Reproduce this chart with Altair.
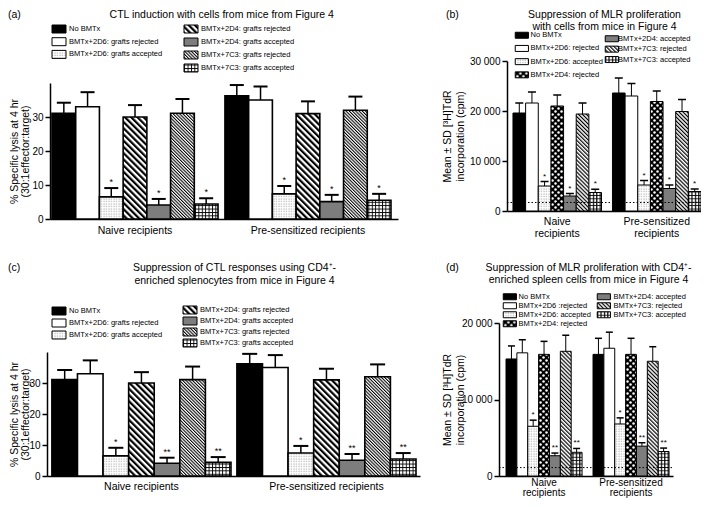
import altair as alt
import pandas as pd

try:
    from altair.utils.html import TEMPLATES
    BASE_TEMPLATE = TEMPLATES["standard"]
except Exception:  # pragma: no cover
    from altair.utils.html import HTML_TEMPLATE as BASE_TEMPLATE

FONT = "Liberation Sans"
W, H = 693, 491

# ------------------------------------------------------------------ data
GROUPS = ["Naive recipients", "Pre-sensitized recipients"]

CTL_CATS = ["No BMTx", "BMTx+2D6: grafts rejected", "BMTx+2D6: grafts accepted",
            "BMTx+2D4: grafts rejected", "BMTx+2D4: grafts accepted",
            "BMTx+7C3: grafts rejected", "BMTx+7C3: grafts accepted"]
CTL_NAIVE = [31.1, 33.0, 6.5, 30.0, 4.1, 31.1, 4.4]
CTL_NAIVE_SD = [3.1, 4.3, 2.6, 3.5, 1.8, 4.2, 1.7]
CTL_PRE = [36.2, 35.0, 7.4, 31.0, 5.1, 32.0, 5.5]
CTL_PRE_SD = [3.2, 4.0, 2.3, 3.6, 2.0, 4.0, 1.9]
A_STARS = ["", "", "*", "", "*", "", "*"]
C_STARS = ["", "", "*", "", "**", "", "**"]
CTL_TICKS = [0, 10, 20, 30]

B_CATS = ["No BMTx", "BMTx+2D6: rejected", "BMTx+2D6: accepted", "BMTx+2D4: rejected",
          "BMTx+2D4: accepted", "BMTx+7C3: rejected", "BMTx+7C3: accepted"]
B_NAIVE = [19600, 21600, 5000, 21000, 3000, 19400, 3700]
B_NAIVE_SD = [2000, 2200, 900, 2200, 500, 2200, 650]
B_PRE = [23600, 23000, 5200, 21900, 4500, 19900, 3900]
B_PRE_SD = [3000, 2500, 900, 2100, 700, 2400, 500]
B_STARS = ["", "", "*", "", "*", "", "*"]
B_BACKGROUND = [1700]
B_TICKS = [0, 10000, 20000, 30000]

D_CATS = ["No BMTx", "BMTx+2D6 :rejected", "BMTx+2D6: accepted", "BMTx+2D4: rejected",
          "BMTx+2D4: accepted", "BMTx+7C3: rejected", "BMTx+7C3: accepted"]
D_NAIVE = [15300, 16100, 6500, 15900, 2650, 16300, 3100]
D_NAIVE_SD = [1700, 1700, 800, 1700, 350, 2100, 500]
D_PRE = [15900, 16700, 6800, 15900, 3900, 15000, 3200]
D_PRE_SD = [2100, 2100, 800, 2100, 450, 1900, 450]
D_STARS = ["", "", "*", "", "**", "", "**"]
D_BACKGROUND = [1100]
D_TICKS = [0, 10000, 20000]

PANEL_TAGS = ["(a)", "(b)", "(c)", "(d)"]
TITLE_A = "CTL induction with cells from mice from Figure 4"
TITLE_B = "Suppression of MLR proliferation\nwith cells from mice in Figure 4"
TITLE_C = "Suppression of CTL responses using CD4\u207a-\nenriched splenocytes from mice in Figure 4"
TITLE_D = "Suppression of MLR proliferation with CD4\u207a-\nenriched spleen cells from mice in Figure 4"
YTITLE_CTL = ["% Specific lysis at 4 hr", "(30:1effector:target)"]
YTITLE_MLR = ["Mean \u00b1 SD [\u00b3H]TdR", "incorporation (cpm)"]

# ------------------------------------------------------------------ styles
FILLS_CTL = ["#000000", "#ffffff", "url(#p-stipple)", "url(#p-diag-bold)", "#7d7d7d",
             "url(#p-diag-fine)", "url(#p-grid)"]
FILLS_MLR = ["#000000", "#ffffff", "url(#p-stipple)", "url(#p-polka)", "#7d7d7d",
             "url(#p-diag-med)", "url(#p-grid-v)"]

PATTERN_DEFS = """<svg width="0" height="0" style="position:absolute;left:0;top:0;width:0;height:0" aria-hidden="true"><defs>
<pattern id="p-stipple" patternUnits="userSpaceOnUse" width="2.5" height="2.5">
<rect width="2.5" height="2.5" fill="#ffffff"/><rect x="0.5" y="0.5" width="1" height="1" fill="#8c8c8c"/></pattern>
<pattern id="p-diag-bold" patternUnits="userSpaceOnUse" width="4.4" height="4.4" patternTransform="rotate(-45)">
<rect width="4.4" height="4.4" fill="#ffffff"/><rect width="2.2" height="4.4" fill="#000000"/></pattern>
<pattern id="p-diag-fine" patternUnits="userSpaceOnUse" width="2.3" height="2.3" patternTransform="rotate(-45)">
<rect width="2.3" height="2.3" fill="#ffffff"/><rect width="1.05" height="2.3" fill="#000000"/></pattern>
<pattern id="p-grid" patternUnits="userSpaceOnUse" width="3.4" height="3.4">
<rect width="3.4" height="3.4" fill="#ffffff"/><rect width="3.4" height="0.9" fill="#000000"/><rect width="0.9" height="3.4" fill="#000000"/></pattern>
<pattern id="p-polka" patternUnits="userSpaceOnUse" width="6" height="6">
<rect width="6" height="6" fill="#000000"/><circle cx="1.5" cy="1.5" r="1.25" fill="#ffffff"/><circle cx="4.5" cy="4.5" r="1.25" fill="#ffffff"/></pattern>
<pattern id="p-diag-med" patternUnits="userSpaceOnUse" width="2.8" height="2.8" patternTransform="rotate(-45)">
<rect width="2.8" height="2.8" fill="#ffffff"/><rect width="1.2" height="2.8" fill="#000000"/></pattern>
<pattern id="p-grid-v" patternUnits="userSpaceOnUse" width="3.4" height="3.4">
<rect width="3.4" height="3.4" fill="#ffffff"/><rect width="3.4" height="0.8" fill="#000000"/><rect width="1.2" height="3.4" fill="#000000"/></pattern>
</defs></svg>"""

RECT_WIDE = "M-1.75,-1L1.75,-1L1.75,1L-1.75,1Z"
RECT_NARROW = "M-2.2,-1L2.2,-1L2.2,1L-2.2,1Z"

LAY_A = dict(xr=[42, 390], yr=[211, 75], ydom=[0, 40], ticks=CTL_TICKS, pi=0.04, po=0.026, align=0.22,
             xfs=10.5, xlp=6, xlh=12, split_lines=False, thousands=False,
             ytitle=YTITLE_CTL, ytx=-35.5, yty=143, ytlh=11,
             bsw=1.6, esw=1.5, capw=14, capt=2, sfs=9,
             legends=[(46.5, 16.5, -0.3, 5.5), (178.5, 16.5, 0, 5.5)],
             lpath=RECT_WIDE, lsize=64, lfs=7.5)
LAY_C = dict(xr=[39, 412], yr=[468, 344], ydom=[0, 40], ticks=CTL_TICKS, pi=0.032, po=0.024, align=0.55,
             xfs=10.5, xlp=5, xlh=12, split_lines=False, thousands=False,
             ytitle=YTITLE_CTL, ytx=-32.5, yty=406, ytlh=11,
             bsw=1.6, esw=1.5, capw=15, capt=2, sfs=9,
             legends=[(46.5, 298.5, -1, 5.5), (177.5, 297.5, -2, 5.5)],
             lpath=RECT_WIDE, lsize=64, lfs=7.5)
LAY_B = dict(xr=[499, 693], yr=[203, 53], ydom=[0, 30000], ticks=B_TICKS, pi=0.11, po=0.03, align=1.0,
             xfs=10.5, xlp=5, xlh=12.5, split_lines=True, thousands=True,
             ytitle=YTITLE_MLR, ytx=-60, yty=128, ytlh=13,
             bsw=1, esw=1, capw=8, capt=1.5, sfs=8,
             legends=[(510.1, 23.5, 2.2, 4.9), (600.1, 27, -0.6, 2.5)],
             lpath=RECT_NARROW, lsize=36, lfs=7.5)
LAY_D = dict(xr=[491, 665], yr=[468, 315], ydom=[0, 20000], ticks=D_TICKS, pi=0.126, po=0.063, align=0.64,
             xfs=10, xlp=1.5, xlh=10, split_lines=True, thousands=True,
             ytitle=YTITLE_MLR, ytx=-52, yty=391.5, ytlh=13,
             bsw=1, esw=1, capw=7, capt=1.5, sfs=8,
             legends=[(498.1, 285, -2.2, 4.9), (592.1, 285, -2, 5.9)],
             lpath=RECT_NARROW, lsize=36, lfs=7.5)


def legend_for(cfg, k):
    lx, ly, rp, lo = cfg["legends"][k]
    return alt.Legend(orient="none", legendX=lx, legendY=ly, title=None, direction="vertical",
                      symbolType=cfg["lpath"], symbolSize=cfg["lsize"], symbolStrokeColor="black",
                      symbolStrokeWidth=1, symbolOpacity=1, labelFont=FONT, labelFontSize=cfg["lfs"],
                      labelColor="black", labelOffset=lo, rowPadding=rp, padding=0, labelLimit=400)


def bar_panel(cats, naive, naive_sd, pre, pre_sd, stars, fills, split, cfg):
    rows = []
    for grp, vals, sds in ((GROUPS[0], naive, naive_sd), (GROUPS[1], pre, pre_sd)):
        for i, cat in enumerate(cats):
            rows.append({"group": grp, "cat": cat, "value": vals[i], "top": vals[i] + sds[i],
                         "star": stars[i], "col": 1 if i < split else 2})
    base = alt.Chart(pd.DataFrame(rows))

    xscale = alt.Scale(domain=GROUPS, range=cfg["xr"], paddingInner=cfg["pi"],
                       paddingOuter=cfg["po"], align=cfg["align"])
    oscale = alt.Scale(domain=cats, paddingInner=0, paddingOuter=0)
    yscale = alt.Scale(domain=cfg["ydom"], range=cfg["yr"], nice=False, zero=False)

    xax = dict(orient="bottom", offset=cfg["yr"][0] - H, ticks=False, tickSize=0, domainColor="black",
               domainWidth=1.5, labelFont=FONT, labelFontSize=cfg["xfs"], labelColor="black",
               labelAngle=0, labelPadding=cfg["xlp"], labelLineHeight=cfg["xlh"], labelLimit=0,
               title=None)
    if cfg["split_lines"]:
        xax["labelExpr"] = "split(datum.label, ' ')"
    yax = dict(orient="left", offset=-cfg["xr"][0], values=cfg["ticks"], grid=False,
               domainColor="black", domainWidth=1.5, tickColor="black", tickWidth=1.5, tickSize=5,
               labelFont=FONT, labelFontSize=10, labelColor="black", labelPadding=2,
               title=cfg["ytitle"], titleFont=FONT, titleFontSize=10.5, titleFontWeight="normal",
               titleColor="black", titleX=cfg["ytx"], titleY=cfg["yty"], titleAngle=270,
               titleAlign="center", titleBaseline="middle", titleLineHeight=cfg["ytlh"])
    if cfg["thousands"]:
        yax["labelExpr"] = "replace(format(datum.value, ','), ',', ' ')"

    # every layer of the panel carries the same axis definition so that they merge
    X = alt.X("group:N", scale=xscale, axis=alt.Axis(**xax))
    XO = alt.XOffset("cat:N", scale=oscale)
    Y_val = alt.Y("value:Q", scale=yscale, axis=alt.Axis(**yax))
    Y_top = alt.Y("top:Q", scale=yscale, axis=alt.Axis(**yax))

    layers = []
    for k, (lo_i, hi_i) in enumerate(((0, split), (split, len(cats)))):
        sub = cats[lo_i:hi_i]
        layers.append(
            base.transform_filter(alt.FieldOneOfPredicate(field="cat", oneOf=sub))
            .mark_bar(stroke="black", strokeWidth=cfg["bsw"], opacity=1)
            .encode(x=X, xOffset=XO, y=Y_val, y2=alt.datum(0),
                    fill=alt.Fill("cat:N", scale=alt.Scale(domain=sub, range=fills[lo_i:hi_i]),
                                  legend=legend_for(cfg, k)))
        )
    stems = base.mark_rule(color="black", strokeWidth=cfg["esw"]).encode(
        x=X, xOffset=XO, y=Y_val, y2="top:Q")
    caps = base.mark_tick(color="black", thickness=cfg["capt"], size=cfg["capw"], opacity=1).encode(
        x=X, xOffset=XO, y=Y_top)
    star_marks = base.mark_text(font=FONT, fontSize=cfg["sfs"], baseline="bottom", dy=-1,
                                color="black").encode(x=X, xOffset=XO, y=Y_top, text="star:N")
    return (alt.layer(*layers, stems, caps, star_marks)
            .resolve_scale(fill="independent").resolve_legend(fill="independent"))


def background_line(level, cfg):
    df = pd.DataFrame({"start": [0.0], "end": [1.0], "level": level})
    return alt.Chart(df).mark_rule(color="black", strokeDash=[1.5, 2], strokeWidth=1).encode(
        x=alt.X("start:Q", scale=alt.Scale(domain=[0, 1], range=cfg["xr"]), axis=None),
        x2="end:Q",
        y=alt.Y("level:Q", scale=alt.Scale(domain=cfg["ydom"], range=cfg["yr"], nice=False, zero=False),
                axis=None),
    )


def label(text, x, y, align="center", size=10.5, lh=12.5):
    return alt.Chart(pd.DataFrame({"t": [text]})).mark_text(
        font=FONT, fontSize=size, align=align, baseline="middle", lineBreak="\n", lineHeight=lh,
        color="black").encode(x=alt.value(x), y=alt.value(y), text="t:N")


panel_a = bar_panel(CTL_CATS, CTL_NAIVE, CTL_NAIVE_SD, CTL_PRE, CTL_PRE_SD, A_STARS, FILLS_CTL, 3, LAY_A)
panel_c = bar_panel(CTL_CATS, CTL_NAIVE, CTL_NAIVE_SD, CTL_PRE, CTL_PRE_SD, C_STARS, FILLS_CTL, 3, LAY_C)
panel_b = bar_panel(B_CATS, B_NAIVE, B_NAIVE_SD, B_PRE, B_PRE_SD, B_STARS, FILLS_MLR, 4, LAY_B)
panel_d = bar_panel(D_CATS, D_NAIVE, D_NAIVE_SD, D_PRE, D_PRE_SD, D_STARS, FILLS_MLR, 4, LAY_D)

texts = [
    label(PANEL_TAGS[0], 0, 7, align="left"),
    label(TITLE_A, 213.7, 7),
    label(PANEL_TAGS[1], 438, 7, align="left"),
    label(TITLE_B, 596.5, 7, lh=11.5),
    label(PANEL_TAGS[2], 0, 260.3, align="left"),
    label(TITLE_C, 226.5, 260.3, lh=12.7),
    label(PANEL_TAGS[3], 438, 260.3, align="left"),
    label(TITLE_D, 580.5, 260.3, lh=12),
]

chart = (
    alt.layer(panel_a, panel_b, background_line(B_BACKGROUND, LAY_B),
              panel_c, panel_d, background_line(D_BACKGROUND, LAY_D), *texts)
    .resolve_scale(x="independent", y="independent", xOffset="independent", fill="independent")
    .resolve_axis(x="independent", y="independent")
    .resolve_legend(fill="independent")
    .properties(width=W, height=H, padding=0, autosize=alt.AutoSizeParams(type="none"),
                background="white")
    .configure_view(stroke=None)
)


class PatternPage:
    """Standard Altair page plus the SVG fill patterns used by the bars."""

    def __init__(self, base, defs):
        self.base = base
        self.defs = defs

    def render(self, *args, **kwargs):
        html = self.base.render(*args, **kwargs)
        if "<body>" in html:
            return html.replace("<body>", "<body>\n" + self.defs, 1)
        return self.defs + html


chart.save("out.html", embed_options={"renderer": "svg", "actions": False},
           template=PatternPage(BASE_TEMPLATE, PATTERN_DEFS))
